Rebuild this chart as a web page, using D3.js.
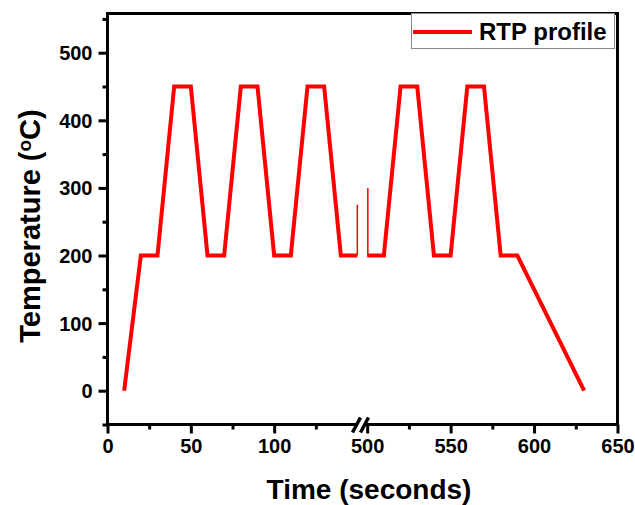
<!DOCTYPE html>
<html>
<head>
<meta charset="utf-8">
<script src="https://cdn.jsdelivr.net/npm/d3@7"></script>
<style>
    body { margin: 0; background: #fff; }
    text { font-family: "Liberation Sans", Arial, sans-serif; font-weight: bold; fill: #000; }
</style>
</head>
<body>
<svg id="chart" width="635" height="505"></svg>
<script>
/* global d3 : false */

// left part of the broken time axis
const leftTime = [10, 20, 30, 40, 50, 60, 70, 80, 90, 100, 110, 120, 130, 140, 150];
const leftTemp = [0, 200, 200, 450, 450, 200, 200, 450, 450, 200, 200, 450, 450, 200, 200];
// right part, after the break
const rightTime = [500, 510, 520, 530, 540, 550, 560, 570, 580, 590, 630];
const rightTemp = [200, 200, 450, 450, 200, 200, 450, 450, 200, 200, 0];
// thin spikes left by the break
const spikeTime = [149.9, 500.4];
const spikeTemp = [275, 300];

const leftMajor = [0, 50, 100];
const leftMinor = [25, 75, 125];
const rightMajor = [500, 550, 600, 650];
const rightMinor = [525, 575, 625];
const yMajor = [0, 100, 200, 300, 400, 500];
const yMinor = [-50, 50, 150, 250, 350, 450, 550];

const plot = { left: 107.5, right: 617.5, top: 13.5, bottom: 424.5 };

const xLeft = d3.scaleLinear().domain([0, 150]).range([plot.left, 357.5]);
const xRight = d3.scaleLinear().domain([496, 650]).range([360.5, plot.right]);
const y = d3.scaleLinear().domain([-50, 558]).range([plot.bottom, plot.top]);

const svg = d3.select("#chart");

// red profile
function drawSegment(times, temps, x, id) {
    const pts = times.map((t, i) => [t, temps[i]]);
    svg.append("clipPath").attr("id", id)
        .append("rect")
        .attr("x", x.range()[0]).attr("y", plot.top)
        .attr("width", x.range()[1] - x.range()[0]).attr("height", plot.bottom - plot.top);
    svg.append("path")
        .datum(pts)
        .attr("clip-path", `url(#${id})`)
        .attr("fill", "none")
        .attr("stroke", "#ff0000")
        .attr("stroke-width", 4)
        .attr("stroke-linejoin", "miter")
        .attr("d", d3.line().x(d => x(d[0])).y(d => y(d[1])));
}
drawSegment(leftTime, leftTemp, xLeft, "clip-left");
drawSegment(rightTime, rightTemp, xRight, "clip-right");

spikeTime.forEach((t, i) => {
    const x = t < 300 ? xLeft : xRight;
    svg.append("line")
        .attr("x1", x(t)).attr("x2", x(t))
        .attr("y1", y(200)).attr("y2", y(spikeTemp[i]))
        .attr("stroke", "#ff0000")
        .attr("stroke-width", 1.5);
});

// frame
const frame = svg.append("g").attr("stroke", "#000").attr("stroke-width", 3).attr("fill", "none");
frame.append("line").attr("x1", plot.left).attr("x2", plot.right).attr("y1", plot.top).attr("y2", plot.top);
frame.append("line").attr("x1", plot.right).attr("x2", plot.right).attr("y1", plot.top - 1.5).attr("y2", plot.bottom + 1.5);
frame.append("line").attr("x1", plot.left).attr("x2", plot.left).attr("y1", plot.top - 1.5).attr("y2", plot.bottom + 1.5);
frame.append("line").attr("x1", plot.left).attr("x2", 356).attr("y1", plot.bottom).attr("y2", plot.bottom);
frame.append("line").attr("x1", 365).attr("x2", plot.right).attr("y1", plot.bottom).attr("y2", plot.bottom);

// break marks
[356.5, 364.5].forEach(bx => {
    frame.append("line")
        .attr("x1", bx - 4).attr("y1", plot.bottom + 8)
        .attr("x2", bx + 4).attr("y2", plot.bottom - 7)
        .attr("stroke-width", 3.5);
});

// bottom axis ticks
function xTicks(x, major, minor) {
    const gMaj = svg.append("g")
        .attr("transform", `translate(0,${plot.bottom})`)
        .call(d3.axisBottom(x).tickValues(major).tickSize(9).tickPadding(5));
    gMaj.select(".domain").remove();
    gMaj.selectAll("line").attr("stroke", "#000").attr("stroke-width", 3);
    gMaj.selectAll("text").attr("font-size", 20).attr("font-family", null);
    const gMin = svg.append("g")
        .attr("transform", `translate(0,${plot.bottom})`)
        .call(d3.axisBottom(x).tickValues(minor).tickSize(5).tickFormat(""));
    gMin.select(".domain").remove();
    gMin.selectAll("line").attr("stroke", "#000").attr("stroke-width", 3);
}
xTicks(xLeft, leftMajor, leftMinor);
xTicks(xRight, rightMajor, rightMinor);

// left axis ticks
const gy = svg.append("g")
    .attr("transform", `translate(${plot.left},0)`)
    .call(d3.axisLeft(y).tickValues(yMajor).tickSize(9).tickPadding(6));
gy.select(".domain").remove();
gy.selectAll("line").attr("stroke", "#000").attr("stroke-width", 3);
gy.selectAll("text").attr("font-size", 20).attr("font-family", null).attr("dy", "0.35em");
const gyMin = svg.append("g")
    .attr("transform", `translate(${plot.left},0)`)
    .call(d3.axisLeft(y).tickValues(yMinor).tickSize(5).tickFormat(""));
gyMin.select(".domain").remove();
gyMin.selectAll("line").attr("stroke", "#000").attr("stroke-width", 3);

// axis titles
svg.append("text")
    .attr("x", 369).attr("y", 499)
    .attr("text-anchor", "middle")
    .attr("font-size", 28)
    .text("Time (seconds)");

const yTitle = svg.append("text")
    .attr("transform", "translate(40,226) rotate(-90)")
    .attr("text-anchor", "middle")
    .attr("font-size", 29);
yTitle.append("tspan").text("Temperature (");
yTitle.append("tspan").attr("font-size", 19).attr("dy", -9).text("o");
yTitle.append("tspan").attr("dy", 9).text("C)");

// legend
const legend = svg.append("g");
legend.append("rect")
    .attr("x", 411.5).attr("y", 13.5)
    .attr("width", 203).attr("height", 35)
    .attr("fill", "#fff")
    .attr("stroke", "#888")
    .attr("stroke-width", 1);
legend.append("line")
    .attr("x1", 413).attr("x2", 472)
    .attr("y1", 32).attr("y2", 32)
    .attr("stroke", "#ff0000")
    .attr("stroke-width", 4);
legend.append("text")
    .attr("x", 479).attr("y", 40)
    .attr("font-size", 24)
    .text("RTP profile");
</script>
</body>
</html>
